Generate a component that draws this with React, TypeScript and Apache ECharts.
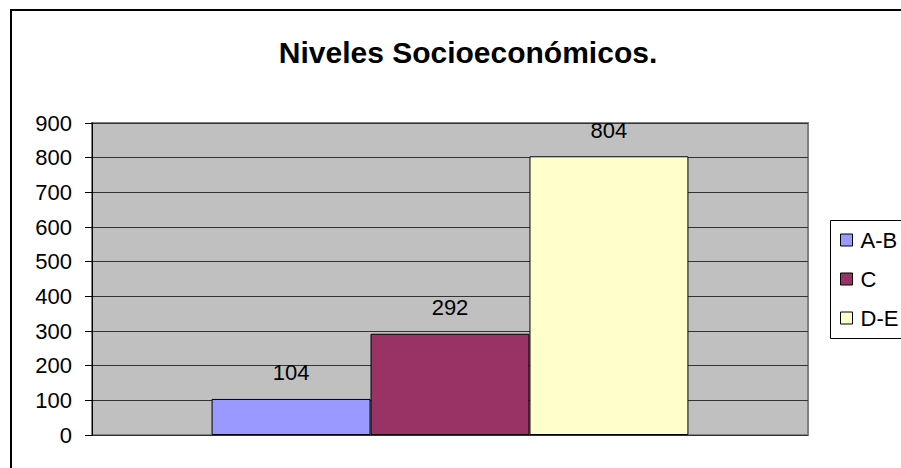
import React, { useEffect, useRef } from "react";
import * as echarts from "echarts";

const categories = [""];
const seriesNames = ["A-B", "C", "D-E"];
const seriesValues = [[104], [292], [804]];
const seriesColors = ["#9999FF", "#993366", "#FFFFCC"];
const yTicks = [0, 100, 200, 300, 400, 500, 600, 700, 800, 900];

export default function App() {
  const ref = useRef<HTMLDivElement>(null);
  useEffect(() => {
    if (!ref.current) return;
    const chart = echarts.init(ref.current, undefined, { renderer: "svg" });
    const font = "Arial, 'Liberation Sans', sans-serif";
    chart.setOption({
      animation: false,
      backgroundColor: "#ffffff",
      title: {
        text: "Niveles Socioeconómicos.",
        left: 463,
        textAlign: "center",
        top: 31,
        textStyle: { fontFamily: font, fontSize: 30, fontWeight: "bold", color: "#000", lineHeight: 32 },
      },
      graphic: [
        {
          type: "rect",
          shape: { x: 11, y: 10, width: 1000, height: 1000 },
          style: { fill: "none", stroke: "#000", lineWidth: 2 },
          silent: true,
        },
        {
          type: "rect",
          shape: { x: 830.5, y: 220.5, width: 200, height: 118 },
          style: { fill: "#fff", stroke: "#000", lineWidth: 1 },
          silent: true,
          z: 1,
        },
      ],
      legend: {
        orient: "vertical",
        left: 840,
        top: 229,
        padding: 0,
        icon: "rect",
        itemWidth: 12,
        itemHeight: 12,
        itemGap: 17,
        z: 5,
        data: seriesNames,
        itemStyle: { borderColor: "#000", borderWidth: 1 },
        textStyle: { fontFamily: font, fontSize: 22, lineHeight: 22, color: "#000", padding: [0, 0, 0, 3] },
      },
      grid: {
        left: 92,
        top: 123,
        width: 716,
        height: 312,
        show: true,
        backgroundColor: "#C0C0C0",
        borderColor: "#808080",
        borderWidth: 2,
      },
      xAxis: {
        type: "category",
        data: categories,
        axisLine: { show: false },
        axisTick: { show: false },
        axisLabel: { show: false },
      },
      yAxis: {
        type: "value",
        min: yTicks[0],
        max: yTicks[yTicks.length - 1],
        interval: 100,
        axisLine: { show: true, lineStyle: { color: "#000", width: 1 } },
        axisTick: { show: true, length: 7, lineStyle: { color: "#000" } },
        axisLabel: { fontFamily: font, fontSize: 22, color: "#000", margin: 20 },
        splitLine: { show: true, lineStyle: { color: "#333", width: 1 } },
      },
      series: seriesNames.map((name, i) => ({
        name,
        type: "bar",
        data: seriesValues[i],
        barGap: "0%",
        barCategoryGap: "33.4%",
        itemStyle: { color: seriesColors[i], borderColor: "#000", borderWidth: 1 },
        label: {
          show: true,
          position: "top",
          distance: 15,
          fontFamily: font,
          fontSize: 22,
          lineHeight: 22,
          color: "#000",
        },
      })),
    });
    return () => chart.dispose();
  }, []);
  return (
    <div
      ref={ref}
      style={{ position: "fixed", left: 0, top: 0, width: 901, height: 468 }}
    />
  );
}
